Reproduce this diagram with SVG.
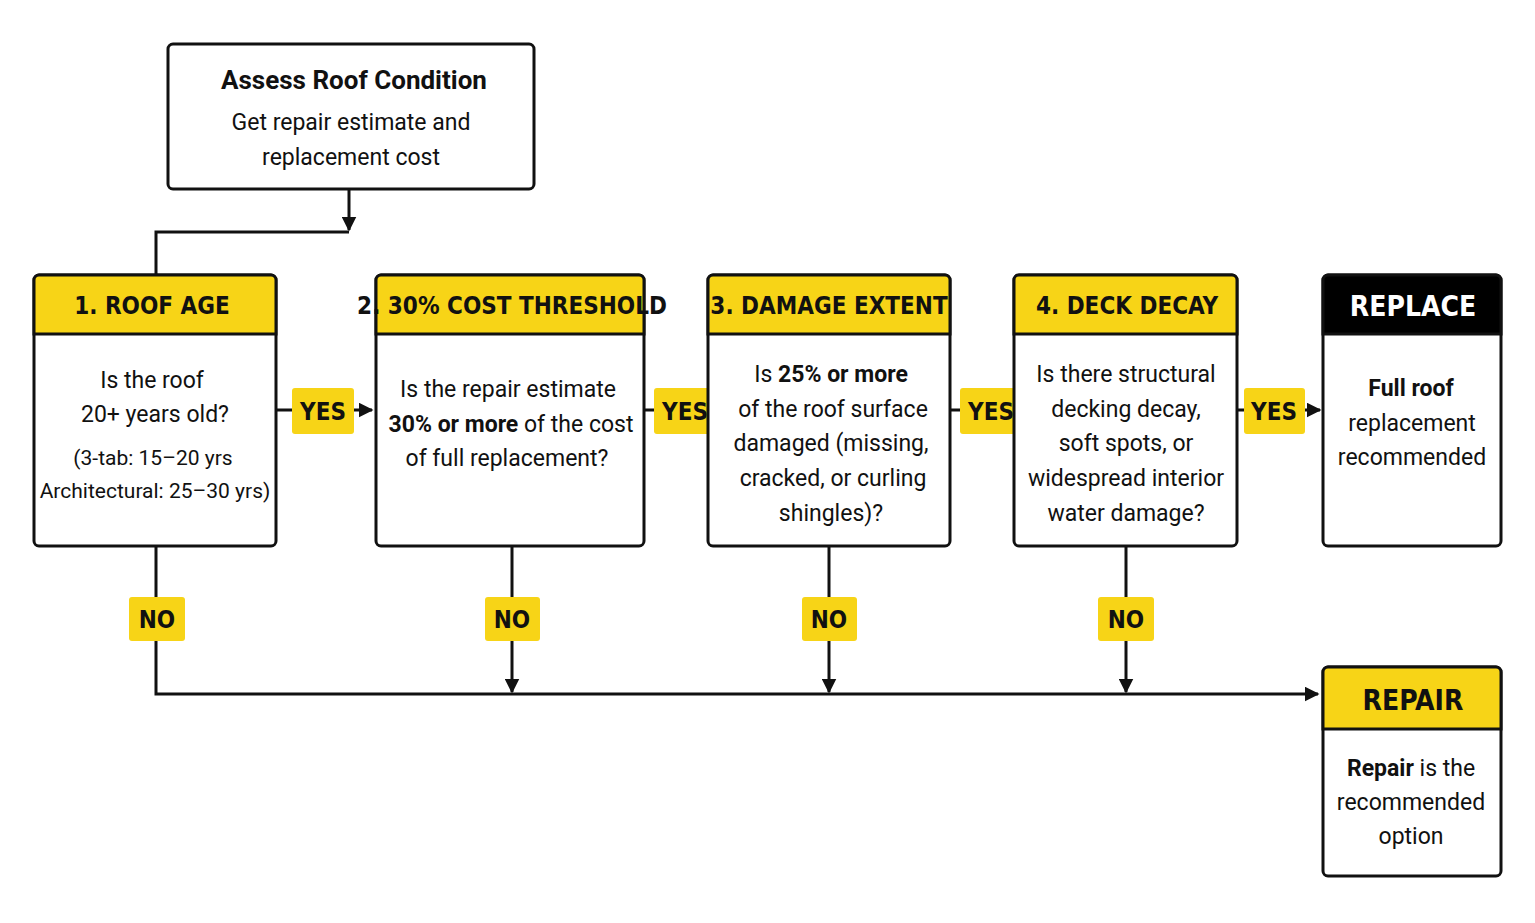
<svg xmlns="http://www.w3.org/2000/svg" width="1535" height="923" viewBox="0 0 1535 923">
<style>
.box{fill:#fff;stroke:#111;stroke-width:3}
.hd{fill:#F7D417;stroke:#111;stroke-width:3}
.ln{stroke:#111;stroke-width:3;fill:none}
.h{font-family:"DejaVu Sans Condensed","Liberation Sans",sans-serif;font-weight:bold;font-size:24px;fill:#111;text-anchor:middle}
.t{font-family:Roboto,"Liberation Sans",sans-serif;font-size:23px;fill:#111;text-anchor:middle}
.s{font-size:21px}
.b{font-weight:bold}
.lab{fill:#F7D417}
</style>
<defs><marker id="a" viewBox="0 0 10 10" refX="9" refY="5" markerWidth="5" markerHeight="5" orient="auto"><path d="M0,0L10,5L0,10z" fill="#111"/></marker></defs>
<rect width="1535" height="923" fill="#fff"/>
<g id="connectors">
<path class="ln" d="M349,189V230" marker-end="url(#a)"/>
<path class="ln" d="M349,232H156V275"/>
<path class="ln" d="M276,410H372" marker-end="url(#a)"/>
<path class="ln" d="M644,410H704" marker-end="url(#a)"/>
<path class="ln" d="M950,410H1010" marker-end="url(#a)"/>
<path class="ln" d="M1237,410H1320" marker-end="url(#a)"/>
<path class="ln" d="M156,546V694H1318" marker-end="url(#a)"/>
<path class="ln" d="M512,546V692" marker-end="url(#a)"/>
<path class="ln" d="M829,546V692" marker-end="url(#a)"/>
<path class="ln" d="M1126,546V692" marker-end="url(#a)"/>
<rect class="lab" x="292" y="388" width="62" height="46" rx="3"/><text class="h" x="323" y="420">YES</text>
<rect class="lab" x="654" y="388" width="62" height="46" rx="3"/><text class="h" x="685" y="420">YES</text>
<rect class="lab" x="960" y="388" width="62" height="46" rx="3"/><text class="h" x="991" y="420">YES</text>
<rect class="lab" x="1244" y="388" width="61" height="46" rx="3"/><text class="h" x="1274" y="420">YES</text>
<rect class="lab" x="129" y="597" width="56" height="44" rx="3"/><text class="h" x="157" y="628">NO</text>
<rect class="lab" x="485" y="597" width="55" height="44" rx="3"/><text class="h" x="512" y="628">NO</text>
<rect class="lab" x="802" y="597" width="55" height="44" rx="3"/><text class="h" x="829" y="628">NO</text>
<rect class="lab" x="1098" y="597" width="56" height="44" rx="3"/><text class="h" x="1126" y="628">NO</text>
</g>
<g id="start">
<rect class="box" x="168" y="44" width="366" height="145" rx="5"/>
<text class="t b" x="354" y="89" style="font-size:26px">Assess Roof Condition</text>
<text class="t" x="351" y="130">Get repair estimate and</text>
<text class="t" x="351" y="165">replacement cost</text>
</g>
<g id="age">
<rect class="box" x="34" y="275" width="242" height="271" rx="5"/>
<path class="hd" d="M39,275H271a5,5 0 0 1 5,5V334H34V280a5,5 0 0 1 5,-5z"/>
<text class="h" x="152" y="314">1. ROOF AGE</text>
<text class="t" x="152" y="388">Is the roof</text>
<text class="t" x="155" y="422">20+ years old?</text>
<text class="t s" x="153" y="465">(3-tab: 15–20 yrs</text>
<text class="t s" x="155" y="498">Architectural: 25–30 yrs)</text>
</g>
<g id="cost">
<rect class="box" x="376" y="275" width="268" height="271" rx="5"/>
<path class="hd" d="M381,275H639a5,5 0 0 1 5,5V334H376V280a5,5 0 0 1 5,-5z"/>
<text class="h" x="512" y="314">2. 30% COST THRESHOLD</text>
<text class="t" x="508" y="397">Is the repair estimate</text>
<text class="t" x="511" y="432"><tspan class="b">30% or more</tspan> of the cost</text>
<text class="t" x="507" y="466">of full replacement?</text>
</g>
<g id="damage">
<rect class="box" x="708" y="275" width="242" height="271" rx="5"/>
<path class="hd" d="M713,275H945a5,5 0 0 1 5,5V334H708V280a5,5 0 0 1 5,-5z"/>
<text class="h" x="829" y="314">3. DAMAGE EXTENT</text>
<text class="t" x="831" y="382">Is <tspan class="b">25% or more</tspan></text>
<text class="t" x="833" y="417">of the roof surface</text>
<text class="t" x="831" y="451">damaged (missing,</text>
<text class="t" x="833" y="486">cracked, or curling</text>
<text class="t" x="831" y="521">shingles)?</text>
</g>
<g id="deck">
<rect class="box" x="1014" y="275" width="223" height="271" rx="5"/>
<path class="hd" d="M1019,275H1232a5,5 0 0 1 5,5V334H1014V280a5,5 0 0 1 5,-5z"/>
<text class="h" x="1127" y="314">4. DECK DECAY</text>
<text class="t" x="1126" y="382">Is there structural</text>
<text class="t" x="1126" y="417">decking decay,</text>
<text class="t" x="1126" y="451">soft spots, or</text>
<text class="t" x="1126" y="486">widespread interior</text>
<text class="t" x="1126" y="521">water damage?</text>
</g>
<g id="replace">
<rect class="box" x="1323" y="275" width="178" height="271" rx="5"/>
<path d="M1328,275H1496a5,5 0 0 1 5,5V334H1323V280a5,5 0 0 1 5,-5z" fill="#000" stroke="#111" stroke-width="3"/>
<text class="h" x="1413" y="316" style="fill:#fff;font-size:28px">REPLACE</text>
<text class="t" x="1411" y="396"><tspan class="b">Full roof</tspan></text>
<text class="t" x="1412" y="431">replacement</text>
<text class="t" x="1412" y="465">recommended</text>
</g>
<g id="repair">
<rect class="box" x="1323" y="667" width="178" height="209" rx="5"/>
<path class="hd" d="M1328,667H1496a5,5 0 0 1 5,5V729H1323V672a5,5 0 0 1 5,-5z"/>
<text class="h" x="1413" y="710" style="font-size:28px">REPAIR</text>
<text class="t" x="1411" y="776"><tspan class="b">Repair</tspan> is the</text>
<text class="t" x="1411" y="810">recommended</text>
<text class="t" x="1411" y="844">option</text>
</g>
</svg>
